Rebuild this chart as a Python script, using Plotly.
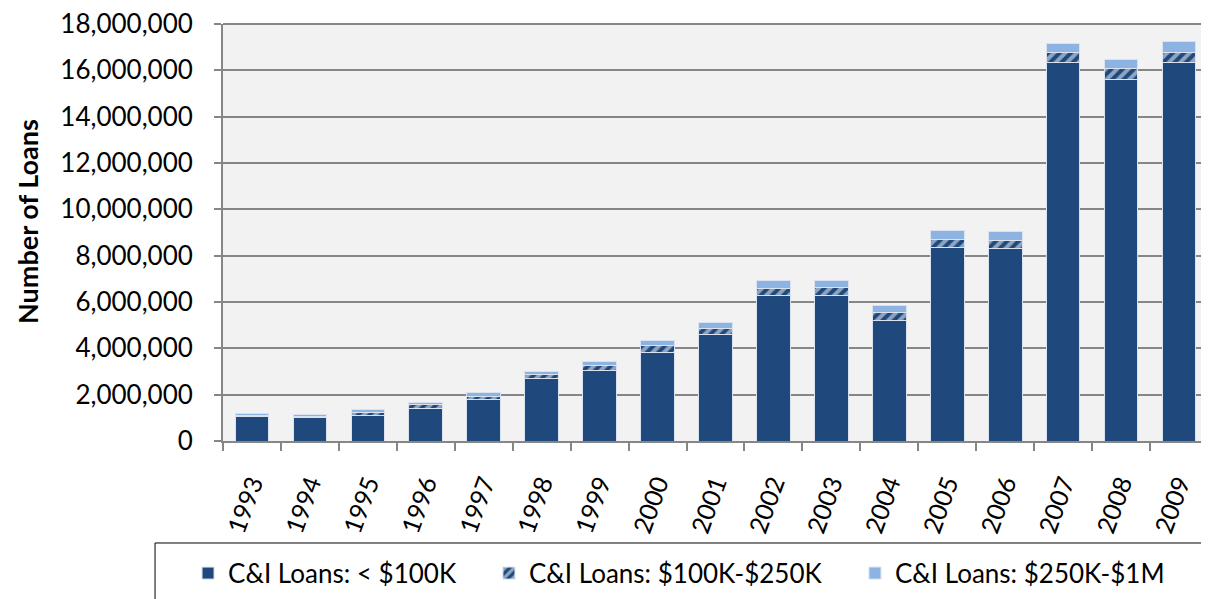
import plotly.graph_objects as go

years = ["1993", "1994", "1995", "1996", "1997", "1998", "1999", "2000", "2001",
         "2002", "2003", "2004", "2005", "2006", "2007", "2008", "2009"]
loans_lt_100k = [1050000, 1000000, 1120000, 1420000, 1810000, 2680000, 3030000, 3810000, 4610000,
                 6300000, 6300000, 5220000, 8340000, 8320000, 16340000, 15620000, 16330000]
loans_100k_250k = [60000, 70000, 100000, 150000, 130000, 170000, 210000, 300000, 250000,
                   290000, 320000, 330000, 370000, 350000, 420000, 440000, 450000]
loans_250k_1m = [90000, 80000, 120000, 110000, 170000, 170000, 180000, 220000, 260000,
                 320000, 300000, 320000, 370000, 390000, 400000, 410000, 450000]

names = ["C&I Loans: < $100K", "C&I Loans: $100K-$250K", "C&I Loans: $250K-$1M"]
DARK = "#1F497D"
LIGHT = "#8DB3E2"
FONT = "Lato"

fig = go.Figure()
fig.add_trace(go.Bar(x=years, y=loans_lt_100k, name=names[0], legend="legend",
                     marker=dict(color=DARK, line=dict(color="#D9E2EE", width=1))))
fig.add_trace(go.Bar(x=years, y=loans_100k_250k, name=names[1], legend="legend2",
                     marker=dict(color=DARK, line=dict(color="#D9E2EE", width=1),
                                 pattern=dict(shape="/", fgcolor="white", bgcolor=DARK,
                                              size=8, solidity=0.5, fillmode="overlay"))))
fig.add_trace(go.Bar(x=years, y=loans_250k_1m, name=names[2], legend="legend3",
                     marker=dict(color=LIGHT, line=dict(color="#D9E2EE", width=1))))

leg_common = dict(orientation="h", y=-0.317, yanchor="middle", xanchor="left",
                  font=dict(family=FONT, size=26, color="black"),
                  bgcolor="rgba(0,0,0,0)", borderwidth=0)

fig.update_layout(
    barmode="stack",
    bargap=0.42,
    width=1201, height=591,
    margin=dict(l=215, r=1, t=16, b=158, autoexpand=False),
    paper_bgcolor="white",
    plot_bgcolor="#F2F2F2",
    font=dict(family=FONT, size=26, color="black"),
    showlegend=True,
    legend=dict(x=-0.0355, **leg_common),
    legend2=dict(x=0.270, **leg_common),
    legend3=dict(x=0.6416, **leg_common),
    shapes=[
        dict(type="rect", xref="paper", yref="paper",
             x0=-0.069, x1=1.005, y0=-0.2446, y1=-0.40,
             line=dict(color="black", width=1), fillcolor="rgba(0,0,0,0)", layer="below"),
        dict(type="line", xref="paper", yref="paper", x0=0, x1=1, y0=1, y1=1,
             line=dict(color="#868686", width=2), layer="below"),
    ],
    annotations=[dict(text="<b>Number of Loans</b>", xref="paper", yref="paper",
                      x=-0.198, y=0.5276, xanchor="center", yanchor="middle",
                      textangle=-90, showarrow=False,
                      font=dict(family=FONT, size=27, color="black"))],
)

fig.update_xaxes(
    automargin=False,
    tickangle=-70,
    tickfont=dict(family=FONT, size=25),
    ticklabelstandoff=16,
    ticklabeloverflow="allow",
    showline=True, linecolor="#868686", linewidth=2,
    ticks="outside", tickson="boundaries", ticklen=8, tickcolor="#868686", tickwidth=2,
    showgrid=False,
)
fig.update_yaxes(
    automargin=False,
    range=[0, 18000000], dtick=2000000, tickformat=",d",
    tickfont=dict(family=FONT, size=26),
    ticklabelstandoff=16,
    ticklabeloverflow="allow",
    showline=True, linecolor="#868686", linewidth=2,
    ticks="outside", ticklen=7, tickcolor="#868686", tickwidth=2,
    showgrid=True, gridcolor="#868686", gridwidth=2,
    zeroline=False,
)

fig.write_html("out.html")
